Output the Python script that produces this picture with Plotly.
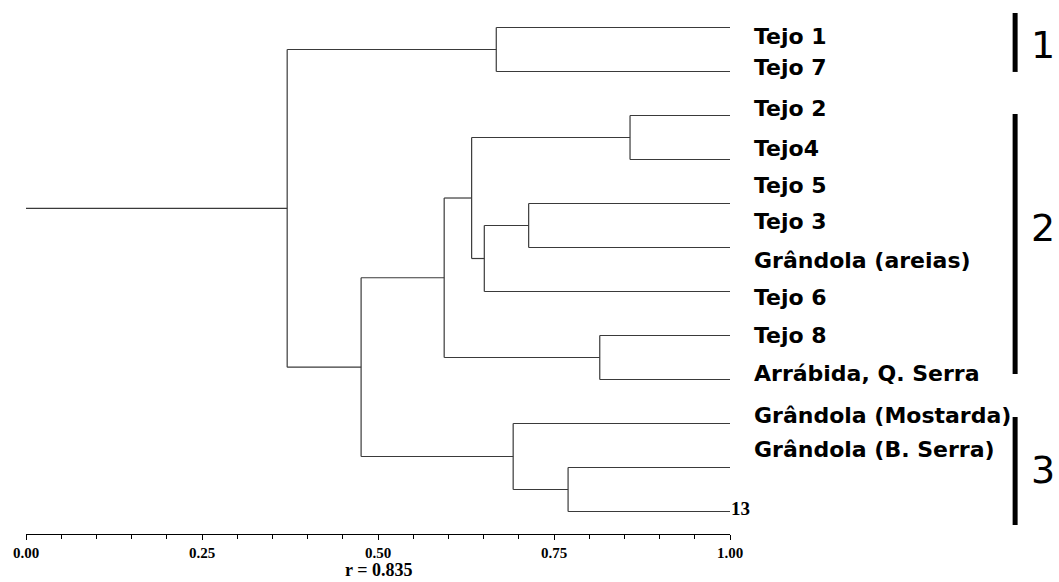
import plotly.graph_objects as go

# ---------------- data ----------------
n_leaves = 12
# merges: (child_a, child_b, similarity); leaves are 0..11, new nodes numbered 12+
merge_a = [0, 2, 4, 14, 13, 7, 16, 10, 9, 18, 12]
merge_b = [1, 3, 5, 6, 15, 8, 17, 11, 19, 20, 21]
merge_h = [0.668, 0.858, 0.714, 0.651, 0.633, 0.815, 0.594, 0.770, 0.692, 0.476, 0.371]

labels = ["Tejo 1", "Tejo 7", "Tejo 2", "Tejo4", "Tejo 5", "Tejo 3",
          "Grândola (areias)", "Tejo 6", "Tejo 8", "Arrábida, Q. Serra",
          "Grândola (Mostarda)", "Grândola (B. Serra)"]
label_pos = [1.205, 1.909, 2.852, 3.761, 4.602, 5.42, 6.284, 7.125, 8.011, 8.852, 9.807, 10.58]
last_leaf_label = "13"

tick_vals = [0.0, 0.25, 0.5, 0.75, 1.0]
tick_text = ["0.00", "0.25", "0.50", "0.75", "1.00"]
coef_text = "r = 0.835"

group_names = ["1", "2", "3"]
group_span = [(0.67, 2.01), (2.966, 8.875), (9.852, 12.307)]
group_text_pos = [1.40, 5.55, 11.05]

# ---------------- build dendrogram segments ----------------
node_x = {i: 1.0 for i in range(n_leaves)}
node_y = {i: float(i + 1) for i in range(n_leaves)}
xs, ys = [], []
for k, (a, b, h) in enumerate(zip(merge_a, merge_b, merge_h)):
    nid = n_leaves + k
    for c in (a, b):
        xs += [node_x[c], h, None]
        ys += [node_y[c], node_y[c], None]
    xs += [h, h, None]
    ys += [node_y[a], node_y[b], None]
    node_x[nid] = h
    node_y[nid] = (node_y[a] + node_y[b]) / 2
root = n_leaves + len(merge_h) - 1
xs += [0.0, node_x[root], None]
ys += [node_y[root], node_y[root], None]

fig = go.Figure()
fig.add_trace(go.Scatter(x=xs, y=ys, mode="lines",
                         line=dict(color="#3a3a3a", width=1.2),
                         hoverinfo="skip", showlegend=False))

annotations = []
for lab, yp in zip(labels, label_pos):
    annotations.append(dict(x=1.031, y=yp, xref="paper", yref="y", text=lab,
                            showarrow=False, xanchor="left", yanchor="middle",
                            font=dict(family="DejaVu Sans", size=22, color="black", weight="bold")))
annotations.append(dict(x=0.999, y=11.94, xref="paper", yref="y", text=last_leaf_label,
                        showarrow=False, xanchor="left", yanchor="middle",
                        font=dict(family="Liberation Serif", size=19, color="black", weight="bold")))
annotations.append(dict(x=0.5, y=-0.0674, xref="paper", yref="paper", text=coef_text,
                        showarrow=False, xanchor="center", yanchor="middle", borderpad=0,
                        font=dict(family="Liberation Serif", size=18, color="black", weight="bold")))

shapes = []
for name, (y0, y1), ty in zip(group_names, group_span, group_text_pos):
    shapes.append(dict(type="line", xref="paper", yref="y", x0=1.405, x1=1.405, y0=y0, y1=y1,
                       line=dict(color="black", width=5)))
    annotations.append(dict(x=1.445, y=ty, xref="paper", yref="y", text=name, showarrow=False,
                            xanchor="center", yanchor="middle", borderpad=0,
                            font=dict(family="DejaVu Sans", size=38, color="black")))

fig.update_layout(
    width=1059, height=582,
    margin=dict(l=26, r=329, t=0, b=48),
    plot_bgcolor="white", paper_bgcolor="white",
    annotations=annotations, shapes=shapes,
    xaxis=dict(range=[0, 1], showgrid=False, zeroline=False, showline=True,
               linecolor="black", linewidth=1, ticks="outside", ticklen=5,
               tickcolor="black", tickwidth=1, tickvals=tick_vals, ticktext=tick_text,
               tickfont=dict(family="Liberation Serif", size=15, color="black", weight="bold"),
               minor=dict(dtick=0.05, tick0=0, ticks="outside", ticklen=4,
                          tickcolor="black", tickwidth=1, showgrid=False),
               fixedrange=True),
    yaxis=dict(range=[12.511, 0.375], visible=False, showgrid=False, zeroline=False,
               fixedrange=True),
)

fig.write_html("out.html", config={"displayModeBar": False},
               post_script="document.body.style.margin='0';document.body.style.overflow='hidden';")
